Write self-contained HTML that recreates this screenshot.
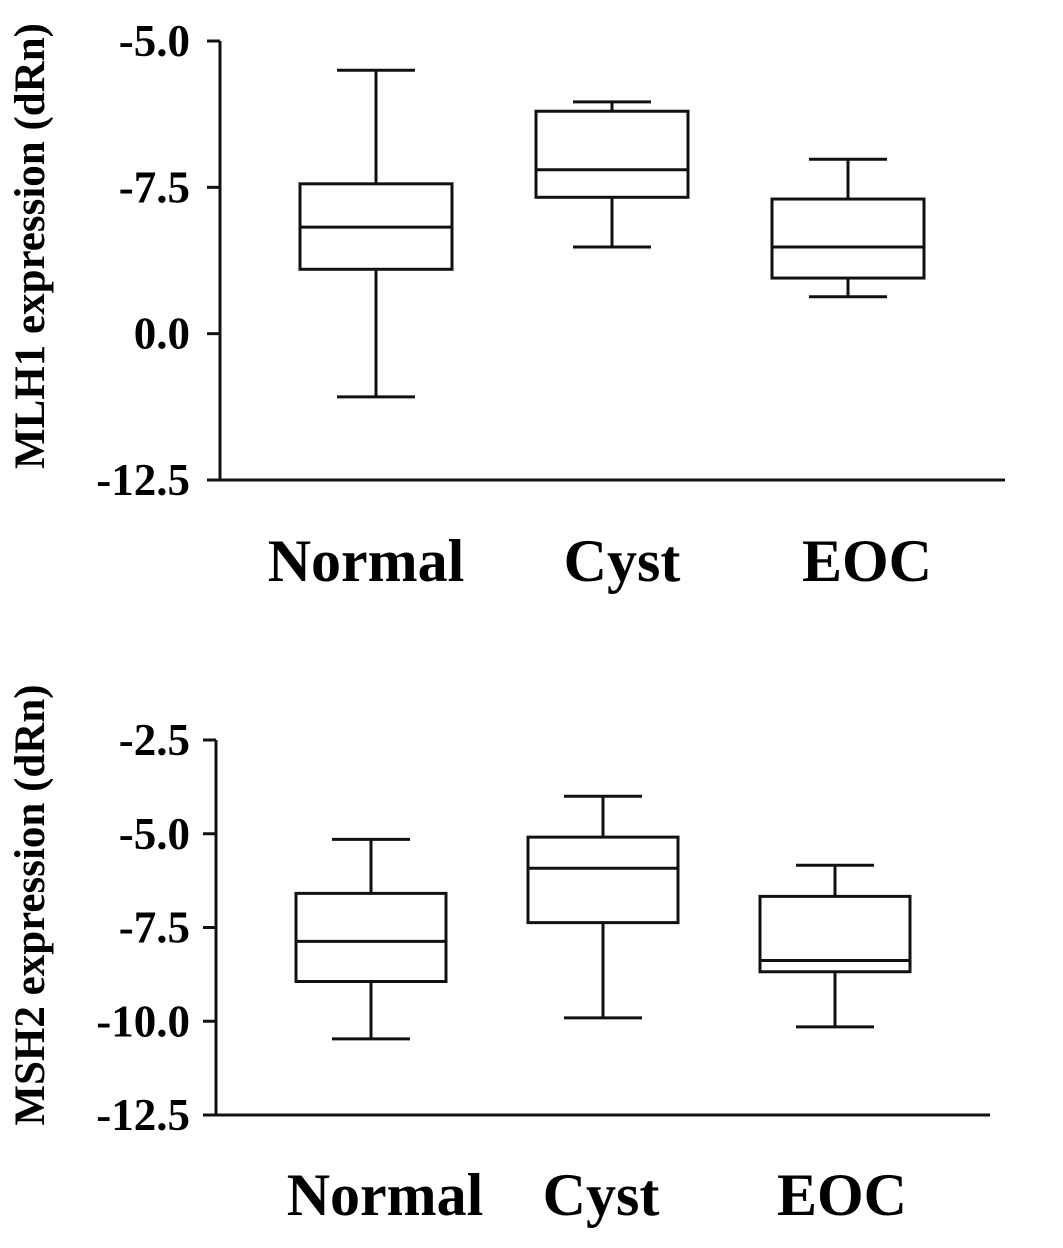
<!DOCTYPE html>
<html><head><meta charset="utf-8">
<style>
html,body{margin:0;padding:0;background:#fff;}
svg{display:block;font-family:"Liberation Serif",serif;font-weight:bold;}
</style></head>
<body>
<svg id="chart" width="1063" height="1248" viewBox="0 0 1063 1248" xmlns="http://www.w3.org/2000/svg"></svg>
<script>
// ---- Top chart (MLH1) data ----
const categories = ["Normal","Cyst","EOC"];
const mlh1Max = [-5.50,-6.04,-7.02];
const mlh1Q3 = [-7.44,-6.20,-7.70];
const mlh1Median = [-8.18,-7.20,-8.52];
const mlh1Q1 = [-8.90,-7.67,-9.05];
const mlh1Min = [-11.08,-8.52,-9.37];
const mlh1TickValues = [-5,-7.5,-10,-12.5];
const mlh1TickLabels = ["-5.0","-7.5","0.0","-12.5"];
// ---- Bottom chart (MSH2) data ----
const msh2Max = [-5.15,-4.00,-5.84];
const msh2Q3 = [-6.59,-5.09,-6.67];
const msh2Median = [-7.87,-5.92,-8.38];
const msh2Q1 = [-8.94,-7.37,-8.68];
const msh2Min = [-10.47,-9.91,-10.15];
const msh2TickValues = [-2.5,-5,-7.5,-10,-12.5];
const msh2TickLabels = ["-2.5","-5.0","-7.5","-10.0","-12.5"];

const NS="http://www.w3.org/2000/svg";
const svg=document.getElementById('chart');
function mk(tag,attrs,parent){const e=document.createElementNS(NS,tag);for(const k in attrs)e.setAttribute(k,attrs[k]);(parent||svg).appendChild(e);return e;}

function drawPanel(cfg){
  const g=mk('g',{});
  
  
  const y=v=>cfg.yTop+(cfg.vTop-v)/(cfg.vTop-cfg.vBot)*(cfg.yBot-cfg.yTop);
  const x=i=>cfg.xCenters[0]+i*(cfg.xCenters[1]-cfg.xCenters[0]);
  const st={stroke:'#111','stroke-width':3,fill:'none'};
  const ya=mk('line',Object.assign({x1:cfg.axisX,y1:y(cfg.vTop),x2:cfg.axisX,y2:y(cfg.vBot)+1.5},st),g);
  
  
  const xa=mk('line',Object.assign({x1:cfg.axisX-12,y1:y(cfg.vBot),x2:cfg.axisEnd,y2:y(cfg.vBot)},st),g);
  
  
  cfg.ticks.forEach((v,i)=>{
    const t=mk('line',Object.assign({x1:cfg.axisX-13,y1:y(v),x2:cfg.axisX,y2:y(v)},st),g);
    
    
    const l=mk('text',{x:cfg.axisX-cfg.labelGap,y:y(v)+15,'text-anchor':'end','font-size':45,fill:'#000'},g);
    l.textContent=cfg.labels[i];
    
    
  });
  const ti=mk('text',{x:0,y:0,'text-anchor':'middle','font-size':43,fill:'#000',transform:`translate(${cfg.titleX},${cfg.titleY}) rotate(-90)`},g);
  ti.textContent=cfg.title;
  
  
  categories.forEach((c,i)=>{
    const cx=x(i), w=cfg.boxW/2, cw=39;
    const bg=mk('g',{},g);
    
    
    mk('line',Object.assign({x1:cx,y1:y(cfg.max[i]),x2:cx,y2:y(cfg.q3[i])},st),bg);
    mk('line',Object.assign({x1:cx,y1:y(cfg.q1[i]),x2:cx,y2:y(cfg.min[i])},st),bg);
    mk('line',Object.assign({x1:cx-cw,y1:y(cfg.max[i]),x2:cx+cw,y2:y(cfg.max[i])},st),bg);
    mk('line',Object.assign({x1:cx-cw,y1:y(cfg.min[i]),x2:cx+cw,y2:y(cfg.min[i])},st),bg);
    mk('rect',Object.assign({x:cx-w,y:y(cfg.q3[i]),width:cfg.boxW,height:y(cfg.q1[i])-y(cfg.q3[i])},st),bg);
    mk('line',Object.assign({x1:cx-w,y1:y(cfg.med[i]),x2:cx+w,y2:y(cfg.med[i])},st),bg);
    const cl=mk('text',{x:cx+cfg.labelShift[i],y:cfg.catY,'text-anchor':'middle','font-size':60,fill:'#000'},g);
    cl.textContent=c;
    
    
  });
}

drawPanel({name:'mlh1-chart',yTop:41,yBot:480,vTop:-5,vBot:-12.5,axisX:220,axisEnd:1005,labelGap:30,
  xCenters:[376,612],boxW:152,ticks:mlh1TickValues,labels:mlh1TickLabels,
  max:mlh1Max,q3:mlh1Q3,med:mlh1Median,q1:mlh1Q1,min:mlh1Min,
  title:'MLH1 expression (dRn)',titleX:44,titleY:246,catY:581,labelShift:[-10,10,19]});
drawPanel({name:'msh2-chart',yTop:740,yBot:1115,vTop:-2.5,vBot:-12.5,axisX:216,axisEnd:990,labelGap:26,
  xCenters:[371,603],boxW:150,ticks:msh2TickValues,labels:msh2TickLabels,
  max:msh2Max,q3:msh2Q3,med:msh2Median,q1:msh2Q1,min:msh2Min,
  title:'MSH2 expression (dRn)',titleX:44,titleY:905,catY:1215,labelShift:[14,-2,7]});
</script>
</body></html>
